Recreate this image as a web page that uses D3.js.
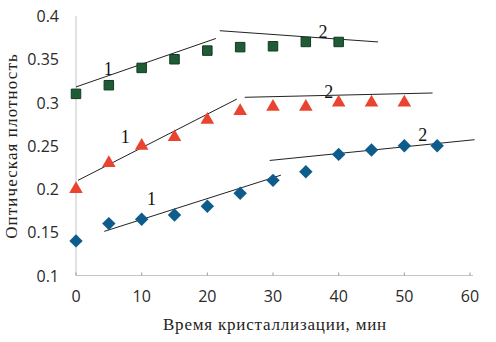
<!DOCTYPE html>
<html><head><meta charset="utf-8">
<script src="https://cdn.jsdelivr.net/npm/d3@7"></script>
<style>body{margin:0;background:#fff}svg{display:block}</style>
</head><body>
<svg id="c" width="496" height="342"></svg>
<script>
const xTicks = [0,10,20,30,40,50,60];
const yTicks = [0.1,0.15,0.2,0.25,0.3,0.35,0.4];
const yTickLabels = ["0.1","0.15","0.2","0.25","0.3","0.35","0.4"];
const greenX = [0,5,10,15,20,25,30,35,40];
const greenY = [0.31,0.32,0.34,0.35,0.36,0.364,0.365,0.37,0.37];
const redX = [0,5,10,15,20,25,30,35,40,45,50];
const redY = [0.20,0.23,0.25,0.26,0.28,0.29,0.295,0.295,0.30,0.30,0.30];
const blueX = [0,5,10,15,20,25,30,35,40,45,50,55];
const blueY = [0.14,0.16,0.165,0.17,0.18,0.195,0.21,0.22,0.24,0.245,0.25,0.25];
// trend segments: [x1,y1,x2,y2]
const trendLines = [
  [0,0.318,21.3,0.374],[21.9,0.383,46,0.370],
  [0.3,0.21,24.5,0.304],[25.7,0.306,54.3,0.311],
  [4.3,0.151,31.2,0.216],[29.5,0.233,60.7,0.257]
];
const segLabels = ["1","2","1","2","1","2"];
const segLabelPos = [[4.9,0.339],[37.6,0.382],[7.5,0.26],[38.5,0.312],[11.5,0.188],[52.8,0.262]];
const xTitle = "Время кристаллизации, мин";
const yTitle = "Оптическая плотность";

const svg = d3.select("#c");
const x = d3.scaleLinear().domain([0,60]).range([76,470]);
const y = d3.scaleLinear().domain([0.1,0.4]).range([275.5,16]);

// axes
svg.append("line").attr("x1",x(0)).attr("x2",x(0)).attr("y1",y(0.4)).attr("y2",y(0.1)).attr("stroke","#c4c4c4");
svg.append("line").attr("x1",x(0)).attr("x2",x(60)+3).attr("y1",y(0.1)).attr("y2",y(0.1)).attr("stroke","#c4c4c4");
svg.selectAll(".xt").data(xTicks).enter().append("line")
  .attr("x1",d=>x(d)).attr("x2",d=>x(d)).attr("y1",y(0.1)-3).attr("y2",y(0.1)).attr("stroke","#999");
svg.selectAll(".xl").data(xTicks).enter().append("text")
  .attr("x",d=>x(d)).attr("y",302).attr("text-anchor","middle")
  .attr("font-family","Open Sans").attr("font-size",16).attr("fill","#2a2a2a").text(d=>d);
svg.selectAll(".yl").data(yTicks).enter().append("text")
  .attr("x",59).attr("y",d=>y(d)+6).attr("text-anchor","end")
  .attr("font-family","Open Sans").attr("font-size",16).attr("fill","#2a2a2a").text((d,i)=>yTickLabels[i]);

svg.append("text").attr("x",275).attr("y",330).attr("text-anchor","middle")
  .attr("font-family","Liberation Serif").attr("font-size",17).attr("letter-spacing",0.8).attr("fill","#222").text(xTitle);
svg.append("text").attr("transform","translate(17,146) rotate(-90)").attr("text-anchor","middle")
  .attr("font-family","Liberation Serif").attr("font-size",17).attr("letter-spacing",1.1).attr("fill","#222").text(yTitle);

// trend lines
svg.selectAll(".tl").data(trendLines).enter().append("line")
  .attr("x1",d=>x(d[0])).attr("y1",d=>y(d[1])).attr("x2",d=>x(d[2])).attr("y2",d=>y(d[3]))
  .attr("stroke","#222").attr("stroke-width",1);
svg.selectAll(".sl").data(segLabelPos).enter().append("text")
  .attr("x",d=>x(d[0])).attr("y",d=>y(d[1])+6).attr("text-anchor","middle")
  .attr("font-family","Liberation Serif").attr("font-size",18).attr("fill","#111").text((d,i)=>segLabels[i]);

// markers
const sq = d3.symbol().type(d3.symbolSquare).size(90);
const tri = d3.symbol().type(d3.symbolTriangle).size(80);
const dia = d3.symbol().type(d3.symbolDiamond).size(52);
svg.selectAll(".g").data(greenX).enter().append("path").attr("d",sq)
  .attr("transform",(d,i)=>`translate(${x(d)},${y(greenY[i])})`).attr("fill","#1f5c36").attr("stroke","#113a20").attr("stroke-width",1);
svg.selectAll(".r").data(redX).enter().append("path").attr("d",tri)
  .attr("transform",(d,i)=>`translate(${x(d)},${y(redY[i])})`).attr("fill","#ea4330");
svg.selectAll(".b").data(blueX).enter().append("path").attr("d",dia)
  .attr("transform",(d,i)=>`translate(${x(d)},${y(blueY[i])}) scale(1.73,1)`).attr("fill","#0d5c8c");
</script>
</body></html>
